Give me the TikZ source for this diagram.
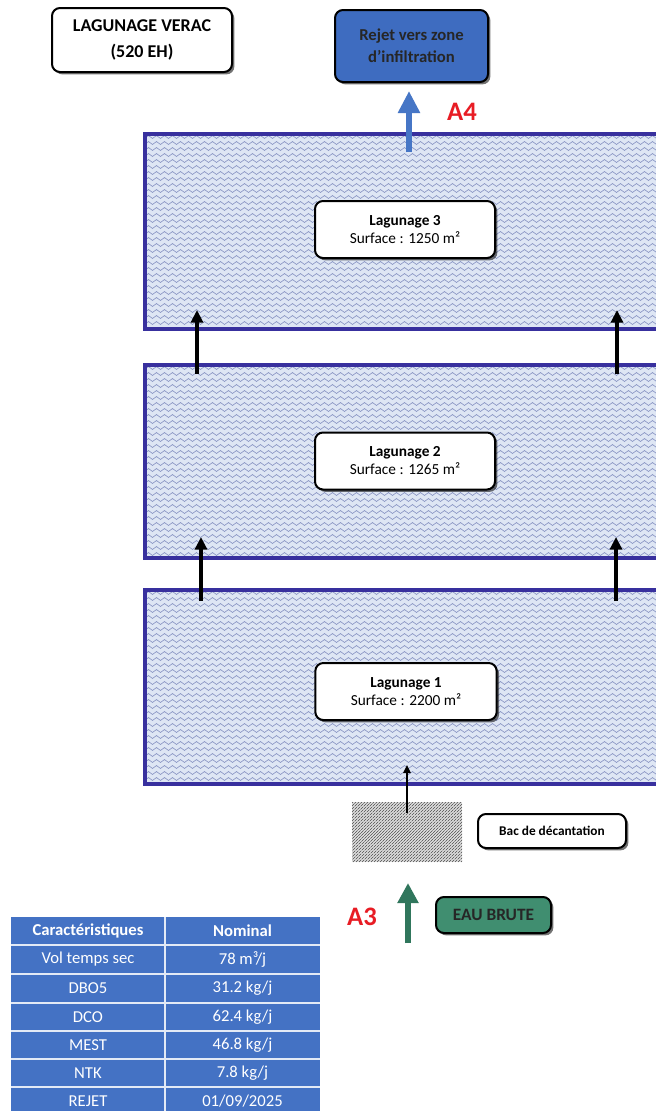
\documentclass[tikz,border=0pt]{standalone}
\usepackage{fontspec}
\setmainfont{Carlito}
\usetikzlibrary{arrows.meta,decorations.pathmorphing,shadows}

\definecolor{pondfill}{RGB}{222,230,244}
\definecolor{wavec}{RGB}{128,140,190}
\definecolor{pondedge}{RGB}{56,48,158}
\definecolor{rejetblue}{RGB}{62,108,192}
\definecolor{outblue}{RGB}{70,118,198}
\definecolor{eaugreen}{RGB}{64,142,112}
\definecolor{ingreen}{RGB}{48,118,92}
\definecolor{labelred}{RGB}{232,28,36}
\definecolor{tabblue}{RGB}{68,114,196}

\tikzset{
  box/.style={draw=black, line width=1.5pt, rounded corners=6pt, fill=white,
    align=center, inner sep=0pt,
    drop shadow={shadow xshift=1.8pt, shadow yshift=-1.8pt, opacity=0.55, fill=black}},
  wave/.style={draw=wavec, line width=0.42pt, decorate,
    decoration={snake, segment length=6pt, amplitude=1.1pt}},
  pondline/.style={draw=pondedge, line width=2.5pt},
  flow/.style={-{Triangle[length=9.5pt,width=9pt]}, line width=2.6pt, black},
  thinflow/.style={-{Triangle[length=6pt,width=5.5pt]}, line width=1.1pt, black},
  outflow/.style={-{Triangle[length=16.5pt,width=15.75pt]}, line width=5pt, outblue},
  inflow/.style={-{Triangle[length=15pt,width=15pt]}, line width=4.5pt, ingreen},
  tag/.style={text=labelred, font=\fontsize{20}{22}\selectfont\bfseries},
  cell/.style={text=white, font=\fontsize{12.5}{14}\selectfont},
  head/.style={cell, font=\fontsize{12.5}{14}\selectfont\bfseries}
}

\begin{document}
\begin{tikzpicture}[x=0.75pt,y=-0.75pt]
\useasboundingbox (0,0) rectangle (656,1111);
\clip (0,0) rectangle (656,1111);
\fill[white] (0,0) rectangle (656,1111);

% the three ponds, wavy water surface, open on the right
\foreach \ya/\yb in {134/329, 365/558, 590/784} {
  \fill[pondfill] (145,\ya) rectangle (670,\yb);
  \begin{scope}
    \clip (145,\ya) rectangle (670,\yb);
    \pgfmathtruncatemacro{\nl}{(\yb-\ya)/6}
    \foreach \k in {0,...,\nl} {
      \draw[wave] (138,\ya+3+6*\k) -- (672,\ya+3+6*\k);
    }
  \end{scope}
  \draw[pondline] (670,\ya) -- (145,\ya) -- (145,\yb) -- (670,\yb);
}

% settling tank, hatched
\fill[gray!25] (352,802) rectangle (462,862);
\begin{scope}
  \clip (352,802) rectangle (462,862);
  \foreach \k in {0,...,60} {
    \draw[black!70, line width=0.5pt, dash pattern=on 2.5pt off 0.6pt]
      (290+3*\k,862) -- (350+3*\k,802);
  }
\end{scope}

% title and labelled boxes
\node[box, minimum width=135pt, minimum height=48pt,
      font=\fontsize{13.5}{19}\selectfont\bfseries] (title) at (142,40)
  {LAGUNAGE VERAC\\(520 EH)};
\node[box, fill=rejetblue, text=black!85, minimum width=114.75pt, minimum height=54pt,
      font=\fontsize{12.5}{16.5}\selectfont\bfseries] (rejet) at (411.5,46)
  {Rejet vers zone\\d’infiltration};

\node[box, minimum width=135pt, minimum height=42.75pt,
      font=\fontsize{11.5}{13.5}\selectfont] (lag3) at (405,229.5)
  {\textbf{Lagunage 3}\\Surface : 1250 m²};
\node[box, minimum width=135pt, minimum height=42.75pt,
      font=\fontsize{11.5}{13.5}\selectfont] (lag2) at (405,461)
  {\textbf{Lagunage 2}\\Surface : 1265 m²};
\node[box, minimum width=136pt, minimum height=42.75pt,
      font=\fontsize{11.5}{13.5}\selectfont] (lag1) at (406,691.5)
  {\textbf{Lagunage 1}\\Surface : 2200 m²};

\node[box, minimum width=111pt, minimum height=25.5pt,
      font=\fontsize{10}{12}\selectfont\bfseries] (bac) at (552,831)
  {Bac de décantation};
\node[box, fill=eaugreen, text=black!85, minimum width=86.25pt, minimum height=27pt,
      font=\fontsize{13}{15}\selectfont\bfseries] (eau) at (493.5,915)
  {EAU BRUTE};

% sampling points
\node[tag] (a4) at (462,112) {A4};
\node[tag] (a3) at (362,917) {A3};

% flow arrows
\coordinate (out0) at (409,152);
\coordinate (out1) at (409,91);
\draw[outflow] (out0) -- (out1);

\coordinate (in0) at (408,943);
\coordinate (in1) at (408,883);
\draw[inflow] (in0) -- (in1);

\coordinate (bac0) at (407,813);
\coordinate (bac1) at (407,765);
\draw[thinflow] (bac0) -- (bac1);

\coordinate (l1l) at (201,601);
\coordinate (l2l) at (201,537);
\coordinate (l1r) at (616,601);
\coordinate (l2r) at (616,537);
\draw[flow] (l1l) -- (l2l);
\draw[flow] (l1r) -- (l2r);

\coordinate (m2l) at (197,374);
\coordinate (m3l) at (197,310);
\coordinate (m2r) at (617,374);
\coordinate (m3r) at (617,310);
\draw[flow] (m2l) -- (m3l);
\draw[flow] (m2r) -- (m3r);

% design load table
\fill[tabblue] (11,917) rectangle (320,1115);
\foreach \yy in {945,974,1003,1031,1059,1087} {
  \draw[white!85!tabblue, line width=1.1pt] (11,\yy) -- (320,\yy);
}
\draw[white!85!tabblue, line width=1.1pt] (165,917) -- (165,1115);

\node[head] (h1) at (88,931) {Caractéristiques};
\node[head] (h2) at (242.5,931) {Nominal};
\node[cell] (r1a) at (88,959.5) {Vol temps sec};
\node[cell] (r1b) at (242.5,959.5) {78 m³/j};
\node[cell] (r2a) at (88,988.5) {DBO5};
\node[cell] (r2b) at (242.5,988.5) {31.2 kg/j};
\node[cell] (r3a) at (88,1017) {DCO};
\node[cell] (r3b) at (242.5,1017) {62.4 kg/j};
\node[cell] (r4a) at (88,1045) {MEST};
\node[cell] (r4b) at (242.5,1045) {46.8 kg/j};
\node[cell] (r5a) at (88,1073) {NTK};
\node[cell] (r5b) at (242.5,1073) {7.8 kg/j};
\node[cell] (r6a) at (88,1101) {REJET};
\node[cell] (r6b) at (242.5,1101) {01/09/2025};
\end{tikzpicture}
\end{document}
